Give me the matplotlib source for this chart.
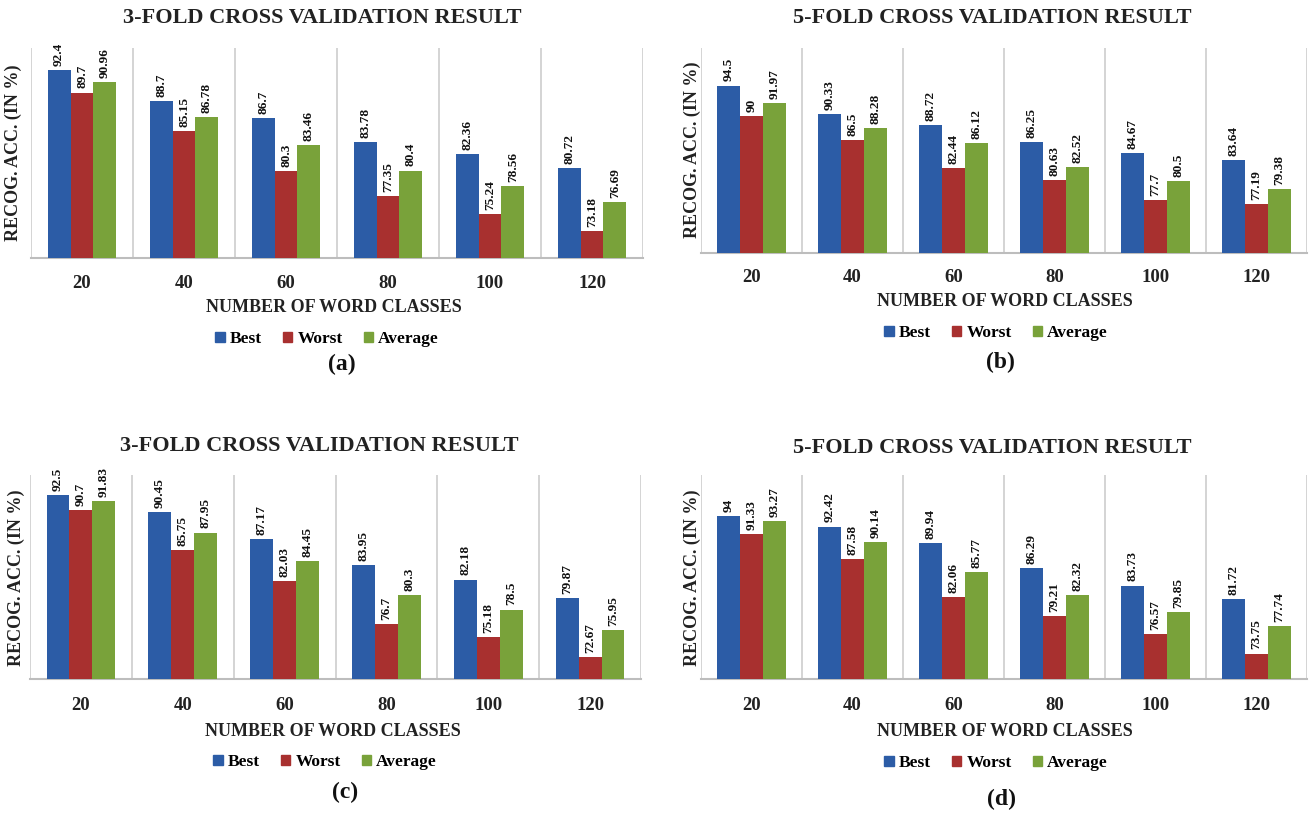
import matplotlib
matplotlib.use("Agg")
import matplotlib.pyplot as plt
from matplotlib.patches import Rectangle
import numpy as np

# Number of word classes on the x axis
categories = ["20", "40", "60", "80", "100", "120"]
series_names = ["Best", "Worst", "Average"]

# Recognition accuracy (%) for each panel
a_best = [92.4, 88.7, 86.7, 83.78, 82.36, 80.72]
a_worst = [89.7, 85.15, 80.3, 77.35, 75.24, 73.18]
a_avg = [90.96, 86.78, 83.46, 80.4, 78.56, 76.69]

b_best = [94.5, 90.33, 88.72, 86.25, 84.67, 83.64]
b_worst = [90, 86.5, 82.44, 80.63, 77.7, 77.19]
b_avg = [91.97, 88.28, 86.12, 82.52, 80.5, 79.38]

c_best = [92.5, 90.45, 87.17, 83.95, 82.18, 79.87]
c_worst = [90.7, 85.75, 82.03, 76.7, 75.18, 72.67]
c_avg = [91.83, 87.95, 84.45, 80.3, 78.5, 75.95]

d_best = [94, 92.42, 89.94, 86.29, 83.73, 81.72]
d_worst = [91.33, 87.58, 82.06, 79.21, 76.57, 73.75]
d_avg = [93.27, 90.14, 85.77, 82.32, 79.85, 77.74]

titles = ["3-FOLD CROSS VALIDATION RESULT", "5-FOLD CROSS VALIDATION RESULT",
          "3-FOLD CROSS VALIDATION RESULT", "5-FOLD CROSS VALIDATION RESULT"]
panel_tags = ["(a)", "(b)", "(c)", "(d)"]
x_title = "NUMBER OF WORD CLASSES"
y_title = "RECOG. ACC. (IN %)"

colors = ["#2C5CA6", "#A8302F", "#79A23A"]
grid_color = "#D4D4D4"
SERIF = ["Liberation Serif", "DejaVu Serif"]

W, H = 1310, 815
fig = plt.figure(figsize=(W / 100, H / 100), dpi=100)
fig.patch.set_facecolor("white")


def fx(x):
    return x / W


def fy(y):
    return 1 - y / H


# pixel layout for each panel: axes box, y limits and text rows
panels = [
    dict(data=(a_best, a_worst, a_avg), box=(31, 643, 48, 258), ylim=(70, 95),
         title=(322, 18), ylab=(13, 153), ticks_y=283, xlab=(334, 307),
         leg=(327, 339), tag=(342, 364)),
    dict(data=(b_best, b_worst, b_avg), box=(701, 1307, 48, 253), ylim=(70, 100),
         title=(992, 18), ylab=(692, 150), ticks_y=277, xlab=(1005, 301),
         leg=(996, 333), tag=(1000, 362)),
    dict(data=(c_best, c_worst, c_avg), box=(30, 641, 475, 679), ylim=(70, 95),
         title=(319, 446), ylab=(16, 578), ticks_y=705, xlab=(333, 731),
         leg=(325, 762), tag=(345, 792)),
    dict(data=(d_best, d_worst, d_avg), box=(701, 1307, 475, 679), ylim=(70, 100),
         title=(992, 448), ylab=(692, 578), ticks_y=705, xlab=(1005, 731),
         leg=(996, 763), tag=(1002, 799)),
]

bar_w = 0.225
x = np.arange(len(categories))

for i, p in enumerate(panels):
    x0, x1, yt, yb = p["box"]
    ax = fig.add_axes([fx(x0), fy(yb), fx(x1 - x0), (yb - yt) / H])
    ax.set_xlim(-0.5, len(categories) - 0.5)
    ax.set_ylim(*p["ylim"])

    for k, (vals, col) in enumerate(zip(p["data"], colors)):
        xs = x + (k - 1) * bar_w
        ax.bar(xs, vals, width=bar_w, color=col, edgecolor="none", zorder=3)
        for xi, v in zip(xs, vals):
            ax.annotate(f"{v:g}", xy=(xi, v), xytext=(0, 3),
                        textcoords="offset points", rotation=90,
                        ha="center", va="bottom", fontsize=9.5,
                        fontweight="bold", family=SERIF, color="#111111",
                        clip_on=False, zorder=4)

    # category separators
    for b in np.arange(-0.5, len(categories), 1.0):
        ax.axvline(b, color=grid_color, lw=1.4, zorder=1)

    for s in ["top", "right", "left"]:
        ax.spines[s].set_visible(False)
    ax.spines["bottom"].set_color("#BDBDBD")
    ax.spines["bottom"].set_linewidth(1.5)
    ax.set_yticks([])
    ax.set_xticks(x)
    ax.set_xticklabels([])
    ax.tick_params(axis="x", length=0)

    # category tick labels
    for xi, lab in zip(x, categories):
        xp = x0 + (xi + 0.5) / len(categories) * (x1 - x0)
        fig.text(fx(xp), fy(p["ticks_y"]), lab, ha="center", va="center",
                 fontsize=13.5, fontweight="bold", family=SERIF, color="#222222")

    fig.text(fx(p["title"][0]), fy(p["title"][1]), titles[i], ha="center",
             va="center", fontsize=16, fontweight="bold", family=SERIF,
             color="#222222")
    fig.text(fx(p["ylab"][0]), fy(p["ylab"][1]), y_title, ha="center",
             va="center", rotation=90, fontsize=13, fontweight="bold",
             family=SERIF, color="#222222")
    fig.text(fx(p["xlab"][0]), fy(p["xlab"][1]), x_title, ha="center",
             va="center", fontsize=13, fontweight="bold", family=SERIF,
             color="#222222")

    handles = [Rectangle((0, 0), 1, 1, color=c) for c in colors]
    fig.legend(handles, series_names, loc="center",
               bbox_to_anchor=(fx(p["leg"][0]), fy(p["leg"][1])), ncol=3,
               frameon=False, handlelength=0.55, handleheight=0.55,
               handletextpad=0.3, columnspacing=1.2,
               prop=dict(family=SERIF, weight="bold", size=12.5))

    fig.text(fx(p["tag"][0]), fy(p["tag"][1]), panel_tags[i], ha="center",
             va="center", fontsize=17, fontweight="bold", family=SERIF,
             color="#111111")

fig.savefig("out.png", dpi=100, facecolor="white")
